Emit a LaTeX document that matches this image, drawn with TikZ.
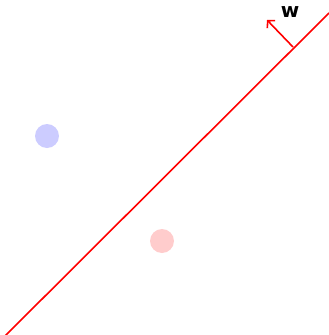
\documentclass[tikz,border=0pt]{standalone}
\usepackage{fontspec}
\newfontfamily\labelfont{DejaVu Sans}
\usetikzlibrary{arrows.meta, calc, positioning}

\begin{document}
\begin{tikzpicture}[
    x=1pt, y=-1pt,
    >={Straight Barb[width=11pt, length=5pt]},
    point/.style={circle, inner sep=0pt, minimum size=24pt},
    every node/.style={font=\labelfont\bfseries},
]
\useasboundingbox (0, 0) rectangle (329, 335);

% Separating line
\coordinate (lo) at (5, 336);
\coordinate (hi) at (329, 13);
\draw[red, line width=1.6pt] (lo) -- (hi);

% Normal vector w
\coordinate (foot) at (293, 47);
\coordinate (tip) at (267, 20);
\draw[->, red, line width=1.6pt] (foot) -- (tip);
\node[font=\labelfont\bfseries\fontsize{20}{22}\selectfont] (w) at (290, 12) {w};

% Samples
\node[point, fill={rgb,255:red,204;green,204;blue,255}] (pos) at (47, 136) {};
\node[point, fill={rgb,255:red,255;green,204;blue,204}] (neg) at (162, 241) {};

\end{tikzpicture}
\end{document}
